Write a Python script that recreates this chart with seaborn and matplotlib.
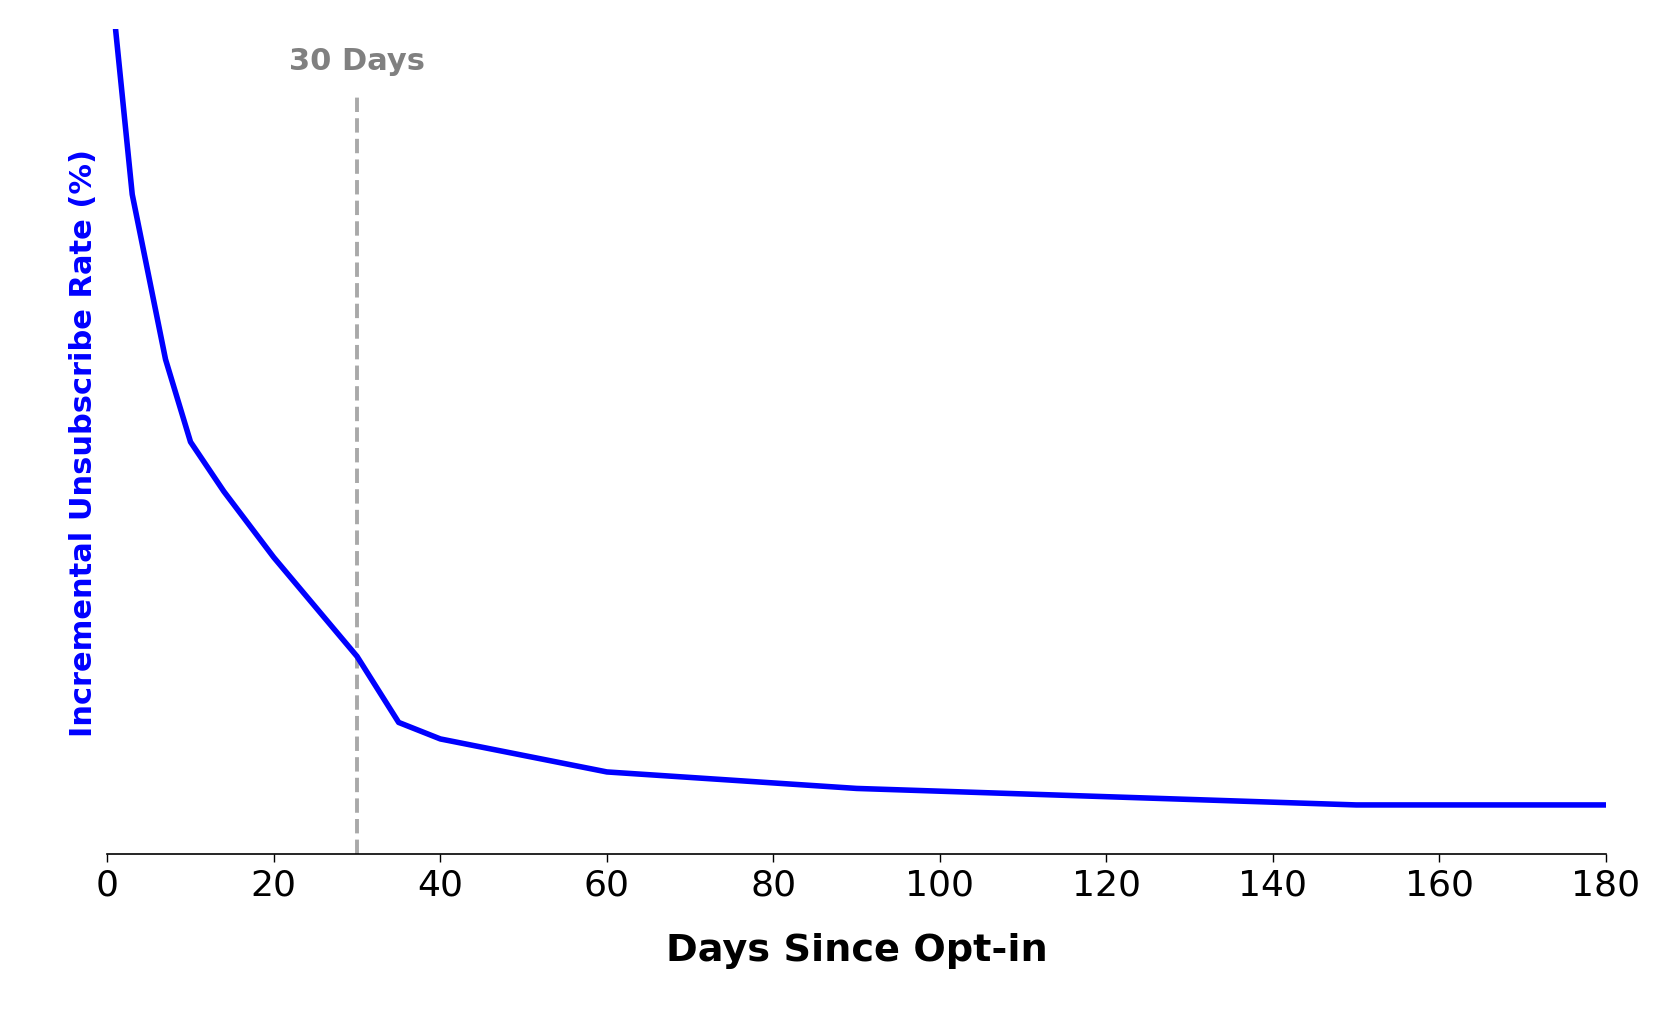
import pandas as pd
import numpy as np
import matplotlib.pyplot as plt
import seaborn as sns

# days since opt-in and the incremental unsubscribe rate
days = [1, 3, 7, 10, 14, 20, 30, 35, 40, 60, 90, 150, 180]
rate = [10.0, 8.0, 6.0, 5.0, 4.4, 3.6, 2.4, 1.6, 1.4, 1.0, 0.8, 0.6, 0.6]
marker_day = 30
marker_label = "30 Days"

df = pd.DataFrame({"Days": days, "Rate": rate})

sns.set_style("white")
plt.rcParams['font.family'] = ['DejaVu Sans']

fig = plt.figure(figsize=(16.81, 10.12), dpi=100)
ax = fig.add_axes([0.0638, 0.1547, 0.8916, 0.8153])

# 30 day marker
ax.axvline(marker_day, ymax=0.922, color="darkgray", linestyle="--", linewidth=2.8, zorder=1)
ax.text(marker_day, 9.45, marker_label, ha="center", va="bottom",
        fontsize=22, fontweight="bold", color="gray")

sns.lineplot(data=df, x="Days", y="Rate", color="blue", linewidth=4, ax=ax, zorder=2)

ax.set_xlim(0, 180)
ax.set_ylim(0, 10)
ax.set_xticks(range(0, 181, 20))
ax.set_yticks([])
ax.tick_params(axis="x", labelsize=26, length=6, width=1, color="black",
               labelcolor="black", direction="out", bottom=True)
ax.set_xlabel("Days Since Opt-in", fontsize=27.5, fontweight="bold", labelpad=22, color="black")
ax.set_ylabel("Incremental Unsubscribe Rate (%)", fontsize=22, fontweight="bold",
              color="blue", labelpad=7)

sns.despine(ax=ax, left=True, top=True, right=True)
ax.spines["bottom"].set_color("black")
ax.spines["bottom"].set_linewidth(1.2)

plt.savefig("out.png", dpi=100)
